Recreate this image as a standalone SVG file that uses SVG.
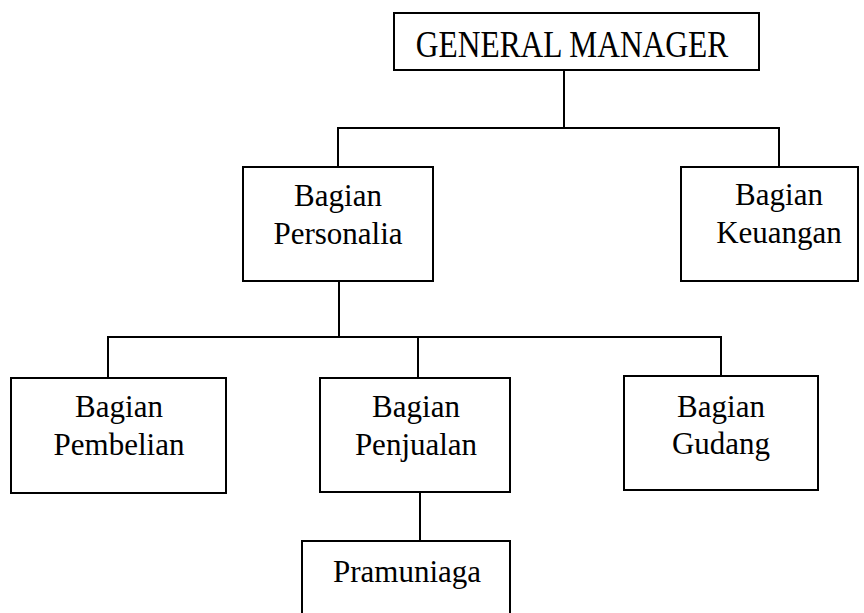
<svg xmlns="http://www.w3.org/2000/svg" width="864" height="613" viewBox="0 0 864 613">
<style>
.box{fill:#fff;stroke:#000;stroke-width:2}
.ln{fill:none;stroke:#000;stroke-width:2}
text{font-family:"Liberation Serif","Times New Roman",serif;font-size:31px;fill:#000;text-anchor:middle}
</style>
<rect width="864" height="613" fill="#fff"/>
<g id="connectors">
<path class="ln" d="M564 70V128M338 167V128H779V167"/>
<path class="ln" d="M339 281V337M108 378V337H721V376M418 337V378"/>
<path class="ln" d="M420 492V541"/>
</g>
<g id="gm"><rect class="box" x="394" y="13" width="365" height="57"/><text transform="translate(572,57) scale(0.85,1)" style="font-size:37px">GENERAL MANAGER</text></g>
<g id="personalia"><rect class="box" x="243" y="167" width="190" height="114"/><text x="338" y="206">Bagian</text><text x="338" y="244">Personalia</text></g>
<g id="keuangan"><rect class="box" x="681" y="167" width="177" height="114"/><text x="779" y="205">Bagian</text><text x="779" y="243">Keuangan</text></g>
<g id="pembelian"><rect class="box" x="11" y="378" width="215" height="115"/><text x="119" y="417">Bagian</text><text x="119" y="455">Pembelian</text></g>
<g id="penjualan"><rect class="box" x="320" y="378" width="190" height="114"/><text x="416" y="417">Bagian</text><text x="416" y="455">Penjualan</text></g>
<g id="gudang"><rect class="box" x="624" y="376" width="194" height="114"/><text x="721" y="417">Bagian</text><text x="721" y="454">Gudang</text></g>
<g id="pramuniaga"><rect class="box" x="302" y="541" width="208" height="80"/><text x="407" y="582">Pramuniaga</text></g>
</svg>
